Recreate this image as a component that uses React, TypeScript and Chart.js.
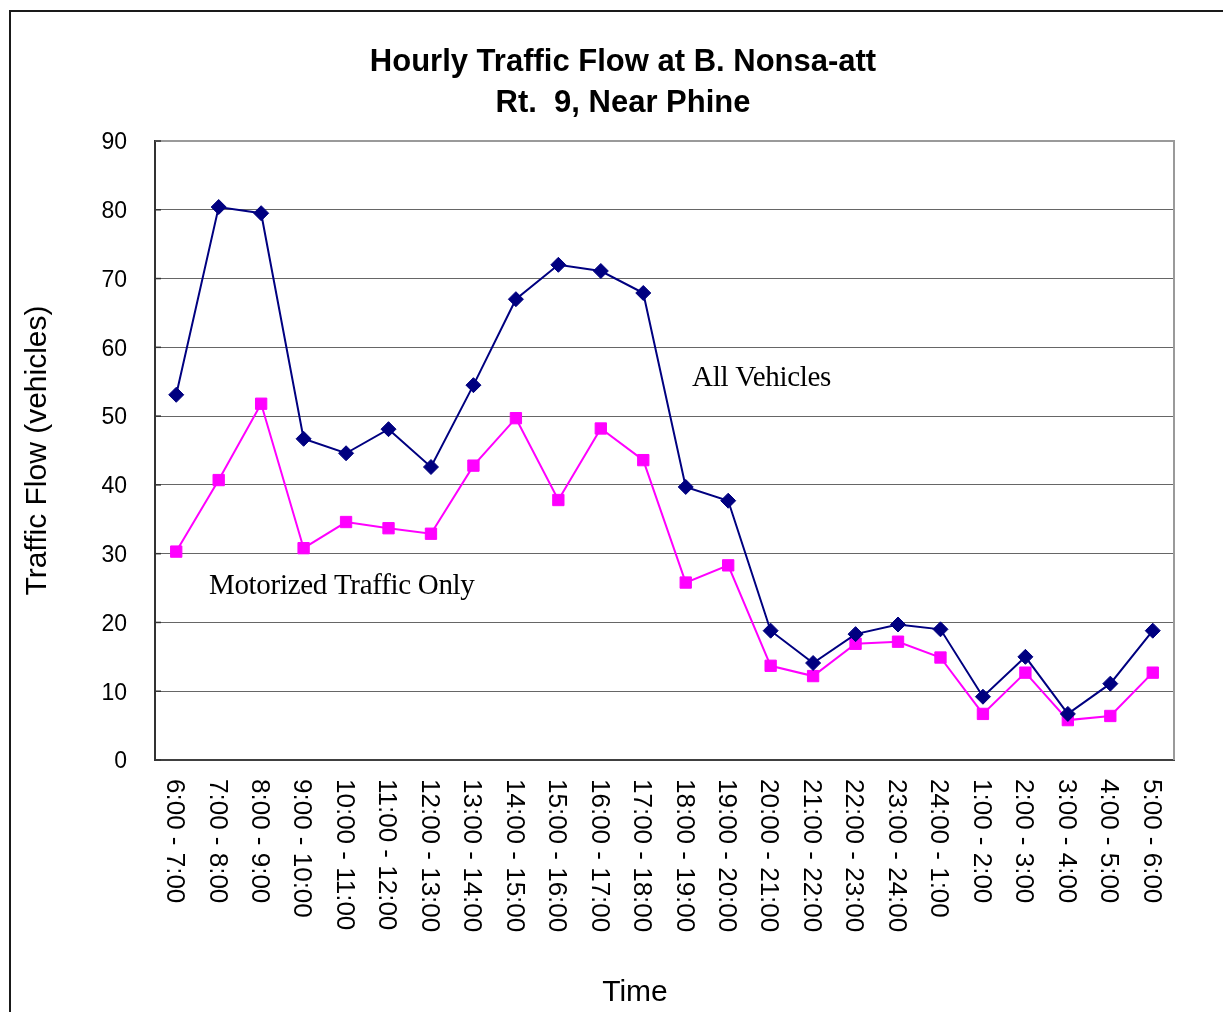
import React, { useEffect, useRef } from 'react';
import { Chart, registerables } from 'chart.js';

Chart.register(...registerables);

const categories = [
  '6:00 - 7:00', '7:00 - 8:00', '8:00 - 9:00', '9:00 - 10:00', '10:00 - 11:00',
  '11:00 - 12:00', '12:00 - 13:00', '13:00 - 14:00', '14:00 - 15:00', '15:00 - 16:00',
  '16:00 - 17:00', '17:00 - 18:00', '18:00 - 19:00', '19:00 - 20:00', '20:00 - 21:00',
  '21:00 - 22:00', '22:00 - 23:00', '23:00 - 24:00', '24:00 - 1:00', '1:00 - 2:00',
  '2:00 - 3:00', '3:00 - 4:00', '4:00 - 5:00', '5:00 - 6:00',
];

const allVehicles = [
  53.1, 80.4, 79.5, 46.7, 44.6, 48.1, 42.6, 54.5, 67.0, 72.0, 71.1, 67.9,
  39.7, 37.7, 18.8, 14.1, 18.3, 19.7, 19.0, 9.2, 15.0, 6.7, 11.1, 18.8,
];

const motorized = [
  30.3, 40.7, 51.8, 30.8, 34.6, 33.7, 32.9, 42.8, 49.7, 37.8, 48.2, 43.6,
  25.8, 28.3, 13.7, 12.2, 16.9, 17.2, 14.9, 6.7, 12.7, 5.8, 6.4, 12.7,
];

const seriesNames = ['All Vehicles', 'Motorized Traffic Only'];
// annotation anchors in data units (category index, value)
const seriesLabelX = [12.15, 0.77];
const seriesLabelY = [55.5, 25.3];

const yMin = 0;
const yMax = 90;
const yStep = 10;

const titleLines = ['Hourly Traffic Flow at B. Nonsa-att', 'Rt.  9, Near Phine'];
const yAxisTitle = 'Traffic Flow (vehicles)';
const xAxisTitle = 'Time';

const SANS = '"Liberation Sans", Arial, sans-serif';
const SERIF = '"Liberation Serif", "Times New Roman", serif';

const decorPlugin = {
  id: 'decor',
  beforeDraw(chart: any) {
    const ctx = chart.ctx;
    ctx.save();
    ctx.fillStyle = '#ffffff';
    ctx.fillRect(0, 0, chart.width, chart.height);
    // outer frame (left and top edges visible)
    ctx.strokeStyle = '#1a1a1a';
    ctx.lineWidth = 2;
    ctx.beginPath();
    ctx.moveTo(10, chart.height);
    ctx.lineTo(10, 11);
    ctx.lineTo(chart.width, 11);
    ctx.stroke();
    ctx.restore();
  },
  afterDraw(chart: any) {
    const ctx = chart.ctx;
    const area = chart.chartArea;
    const xs = chart.scales.x;
    const ys = chart.scales.y;
    ctx.save();

    // plot frame top and right
    ctx.strokeStyle = '#9a9a9a';
    ctx.lineWidth = 2;
    ctx.beginPath();
    ctx.moveTo(area.left, area.top);
    ctx.lineTo(area.right, area.top);
    ctx.lineTo(area.right, area.bottom);
    ctx.stroke();

    // small inner tick marks on y axis
    ctx.strokeStyle = '#333';
    ctx.lineWidth = 1.5;
    for (let v = yMin; v <= yMax; v += yStep) {
      const y = ys.getPixelForValue(v);
      ctx.beginPath();
      ctx.moveTo(area.left, y);
      ctx.lineTo(area.left + 6, y);
      ctx.stroke();
    }

    // title
    ctx.fillStyle = '#000';
    ctx.textAlign = 'center';
    ctx.textBaseline = 'alphabetic';
    ctx.font = `bold 31px ${SANS}`;
    ctx.fillText(titleLines[0], 623, 71);
    ctx.fillText(titleLines[1], 623, 112);

    // x tick labels, rotated clockwise
    ctx.font = `26px ${SANS}`;
    ctx.textAlign = 'left';
    ctx.textBaseline = 'middle';
    categories.forEach((lab, i) => {
      const x = xs.getPixelForValue(i);
      ctx.save();
      ctx.translate(x - 2, area.bottom + 19);
      ctx.rotate(Math.PI / 2);
      ctx.fillText(lab, 0, 0);
      ctx.restore();
    });

    // x axis title
    ctx.font = `30px ${SANS}`;
    ctx.textAlign = 'center';
    ctx.textBaseline = 'alphabetic';
    ctx.fillText(xAxisTitle, 635, 1001);

    // series annotations
    ctx.font = `29px ${SERIF}`;
    (ctx as any).letterSpacing = '-0.3px';
    ctx.textAlign = 'left';
    ctx.textBaseline = 'middle';
    seriesNames.forEach((name, i) => {
      ctx.fillText(name, xs.getPixelForValue(seriesLabelX[i]), ys.getPixelForValue(seriesLabelY[i]));
    });
    (ctx as any).letterSpacing = '0px';

    ctx.restore();
  },
};

export default function App() {
  const ref = useRef<HTMLCanvasElement | null>(null);

  useEffect(() => {
    if (!ref.current) return;
    const chart = new Chart(ref.current, {
      type: 'line',
      data: {
        labels: categories,
        datasets: [
          {
            label: seriesNames[0],
            data: allVehicles,
            borderColor: '#000080',
            backgroundColor: '#000080',
            borderWidth: 2,
            pointStyle: 'rectRot',
            pointRadius: 7.5,
            pointBorderWidth: 1,
            pointBorderColor: '#000080',
            tension: 0,
          },
          {
            label: seriesNames[1],
            data: motorized,
            borderColor: '#ff00ff',
            backgroundColor: '#ff00ff',
            borderWidth: 2,
            pointStyle: 'rect',
            pointRadius: 8,
            pointBorderWidth: 1,
            pointBorderColor: '#ff00ff',
            tension: 0,
          },
        ],
      },
      options: {
        animation: false,
        responsive: false,
        events: [],
        layout: { padding: { left: 22, top: 141, right: 49, bottom: 0 } },
        plugins: {
          legend: { display: false },
          title: { display: false },
          tooltip: { enabled: false },
        },
        scales: {
          x: {
            type: 'category',
            offset: true,
            grid: { display: false },
            border: { display: true, color: '#404040', width: 2 },
            ticks: { display: false },
            afterFit: (s: any) => {
              s.height = 252;
            },
          },
          y: {
            min: yMin,
            max: yMax,
            ticks: {
              stepSize: yStep,
              padding: 28,
              labelOffset: 2,
              color: '#000',
              font: { family: SANS, size: 23 },
            },
            grid: { color: '#666666', lineWidth: 1, drawTicks: false },
            border: { display: true, color: '#333333', width: 2 },
            title: {
              display: true,
              text: yAxisTitle,
              color: '#000',
              font: { family: SANS, size: 30, lineHeight: 1 },
              padding: { top: 1, bottom: 0 },
            },
            afterFit: (s: any) => {
              s.width = 133;
            },
          },
        },
      },
      plugins: [decorPlugin],
    });
    return () => chart.destroy();
  }, []);

  return (
    <canvas
      ref={ref}
      width={1223}
      height={1012}
      style={{ position: 'fixed', left: 0, top: 0, display: 'block' }}
    />
  );
}
